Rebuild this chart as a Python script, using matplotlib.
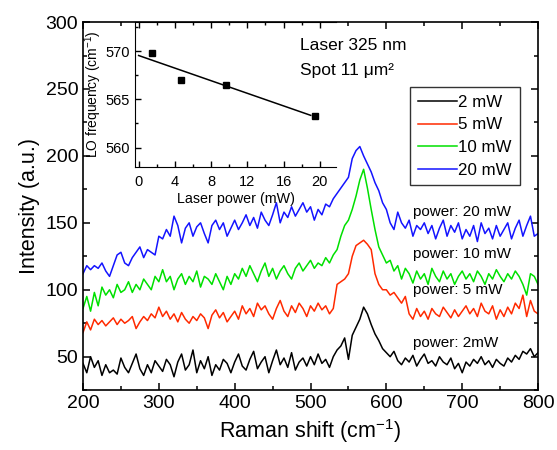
import numpy as np
import matplotlib
matplotlib.use("Agg")
import matplotlib.pyplot as plt
from matplotlib.ticker import MultipleLocator

plt.rcParams['font.family'] = ['Liberation Sans', 'DejaVu Sans']
plt.rcParams['mathtext.fontset'] = 'custom'
plt.rcParams['mathtext.rm'] = 'Liberation Sans'
plt.rcParams['mathtext.it'] = 'Liberation Sans:italic'

# Raman spectra, 200-800 cm-1 in steps of 5
shift = np.arange(200, 801, 5)

int_2mw = [45, 38, 50, 42, 47, 36, 44, 38, 40, 37, 49, 42, 38, 45, 52, 41, 36, 44, 38, 47, 43,
           39, 48, 44, 35, 46, 52, 40, 44, 55, 38, 47, 41, 50, 36, 44, 40, 48, 45, 38, 46,
           52, 43, 40, 48, 54, 41, 46, 50, 38, 47, 55, 44, 49, 42, 53, 40, 46, 49, 43, 50,
           44, 52, 45, 48, 42, 50, 55, 58, 64, 48, 66, 72, 78, 87, 82, 74, 67, 62, 56, 53,
           50, 54, 47, 44, 49, 46, 51, 43, 48, 52, 45, 47, 43, 50, 46, 44, 49, 41, 45, 38,
           46, 43, 48, 45, 50, 44, 47, 42, 48, 45, 43, 49, 46, 51, 48, 54, 52, 56, 50, 53]

int_5mw = [68, 76, 70, 78, 74, 77, 73, 76, 79, 74, 78, 75, 77, 80, 71, 76, 80, 77, 82, 79, 87,
           80, 84, 78, 82, 76, 83, 78, 75, 80, 77, 82, 79, 71, 81, 85, 79, 83, 76, 80, 84,
           78, 88, 82, 86, 80, 90, 85, 88, 82, 78, 86, 92, 84, 80, 88, 83, 90, 86, 80, 88,
           84, 90, 85, 88, 82, 86, 104, 106, 108, 112, 125, 133, 135, 137, 134, 130, 112, 104, 100, 100,
           96, 98, 94, 90, 95, 82, 78, 86, 80, 84, 78, 86, 82, 80, 87, 83, 79, 85, 80, 84,
           88, 82, 86, 80, 90, 84, 82, 88, 78, 85, 80, 87, 82, 90, 86, 96, 80, 92, 84, 82]

int_10mw = [86, 95, 84, 98, 88, 102, 96, 100, 94, 104, 98, 100, 106, 98, 104, 100, 108, 104, 100, 110, 106,
            115, 106, 110, 100, 108, 112, 104, 110, 106, 114, 102, 110, 108, 104, 112, 106, 100, 110, 104, 112,
            108, 116, 110, 118, 112, 106, 114, 120, 110, 116, 108, 114, 118, 112, 108, 116, 120, 114, 118, 122,
            116, 120, 118, 124, 120, 126, 130, 140, 148, 152, 160, 170, 182, 190, 176, 160, 145, 132, 126, 120,
            122, 114, 118, 108, 116, 112, 105, 114, 108, 112, 104, 116, 110, 106, 114, 108, 112, 104, 110, 114,
            108, 112, 106, 114, 110, 104, 112, 108, 115, 110, 106, 112, 108, 114, 110, 104, 96, 112, 110, 104]

int_20mw = [112, 118, 115, 118, 116, 120, 114, 110, 118, 126, 128, 120, 118, 124, 128, 132, 124, 130, 128, 126, 140,
            138, 145, 140, 155, 148, 135, 146, 150, 140, 147, 150, 142, 135, 148, 152, 145, 150, 140, 146, 152,
            145, 150, 156, 148, 154, 146, 158, 152, 148, 156, 165, 150, 158, 154, 162, 155, 160, 165, 158, 162,
            152, 160, 156, 164, 162, 168, 172, 176, 180, 184, 198, 204, 207, 200, 194, 188, 180, 174, 165, 160,
            150, 145, 158, 150, 146, 152, 140, 148, 145, 150, 142, 148, 138, 146, 152, 140, 148, 143, 150, 138,
            145, 140, 148, 136, 150, 142, 146, 138, 148, 140, 145, 150, 138, 146, 152, 140, 148, 155, 140, 142]

series_labels = ['2 mW', '5 mW', '10 mW', '20 mW']
series_colors = ['black', '#ff2a00', '#00e000', '#1414ff']
curve_tags = ['power: 2mW', 'power: 5 mW', 'power: 10 mW', 'power: 20 mW']
tag_y = [60, 100, 127, 158]

# LO phonon frequency vs laser power
power = [1.5, 4.7, 9.7, 19.5]
lo_freq = [569.8, 567.0, 566.5, 563.3]

fig = plt.figure(figsize=(5.57, 4.5), dpi=100)
ax = fig.add_axes([0.149, 0.133, 0.817, 0.818])

for y, lab, col in zip([int_2mw, int_5mw, int_10mw, int_20mw], series_labels, series_colors):
    ax.plot(shift, y, color=col, lw=1.1, label=lab)

for t, ty in zip(curve_tags, tag_y):
    ax.text(635, ty, t, fontsize=11, va='center', ha='left')

ax.set_xlim(200, 800)
ax.set_ylim(25, 300)
ax.xaxis.set_major_locator(MultipleLocator(100))
ax.xaxis.set_minor_locator(MultipleLocator(50))
ax.yaxis.set_major_locator(MultipleLocator(50))
ax.yaxis.set_minor_locator(MultipleLocator(25))
ax.tick_params(which='both', direction='in', top=True, right=True, labelsize=14, width=1.1)
ax.tick_params(which='major', length=5)
ax.tick_params(which='minor', length=3)
for s in ax.spines.values():
    s.set_linewidth(1.2)
ax.set_xlabel('Raman shift (cm$^{-1}$)', fontsize=15.5)
ax.set_ylabel('Intensity (a.u.)', fontsize=15.5)

leg = ax.legend(loc='upper left', bbox_to_anchor=(0.719, 0.823), borderaxespad=0,
                fontsize=12.2, frameon=True, fancybox=False, handlelength=2.3,
                handletextpad=0.1, labelspacing=0.45, borderpad=0.45)
leg.get_frame().set_edgecolor('black')
leg.get_frame().set_linewidth(1.0)

# inset: LO frequency shift with power
ins = fig.add_axes([0.2424, 0.6289, 0.361, 0.3222])
ins.plot(power, lo_freq, 's', color='black', ms=4.5)
k, b = np.polyfit(power, lo_freq, 1)
fx = np.array([0, 19])
ins.plot(fx, k * fx + b, color='black', lw=1.1)
ins.set_xlim(-0.4, 21.8)
ins.set_ylim(558, 573)
ins.xaxis.set_major_locator(MultipleLocator(4))
ins.xaxis.set_minor_locator(MultipleLocator(2))
ins.yaxis.set_major_locator(MultipleLocator(5))
ins.yaxis.set_minor_locator(MultipleLocator(2.5))
ins.spines['right'].set_visible(False)
ins.tick_params(which='both', direction='in', top=True, labelsize=10.5, width=1.0)
ins.tick_params(axis='x', pad=6)
ins.tick_params(which='major', length=4)
ins.tick_params(which='minor', length=2.5)
ins.set_xlabel('Laser power (mW)', fontsize=10.3, labelpad=2)
ins.set_ylabel('LO frequency (cm$^{-1}$)', fontsize=10, labelpad=1)

fig.text(0.5386, 0.9, 'Laser 325 nm', fontsize=12.5, va='center')
fig.text(0.5386, 0.8444, 'Spot 11 μm²', fontsize=12.5, va='center')

fig.savefig('out.png', dpi=100)
